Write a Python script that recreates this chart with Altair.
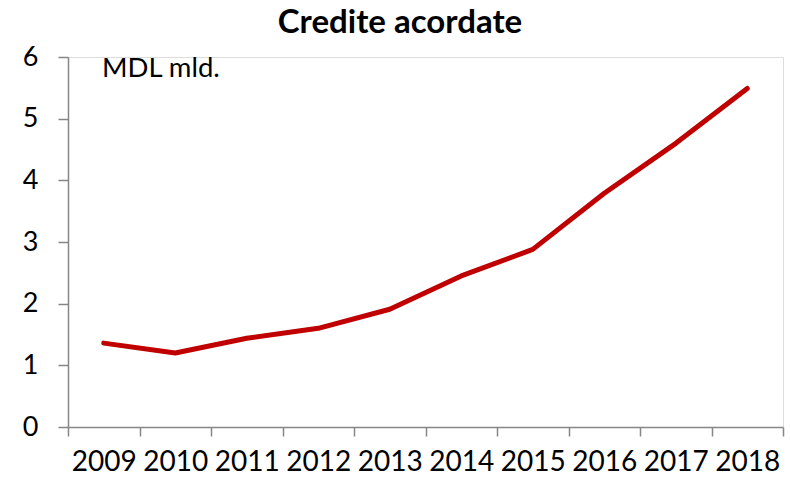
import altair as alt
import pandas as pd

years = ["2009", "2010", "2011", "2012", "2013", "2014", "2015", "2016", "2017", "2018"]
values = [1.36, 1.20, 1.44, 1.60, 1.91, 2.45, 2.88, 3.79, 4.60, 5.49]
title_text = "Credite acordate"
unit_text = "MDL mld."

df = pd.DataFrame({"year": years, "value": values})

FONT = "Lato"
AX = "#868686"

x_enc = alt.X(
    "year:O",
    sort=years,
    bandPosition=0.5,
    scale=alt.Scale(type="band", paddingInner=0, paddingOuter=0),
    axis=alt.Axis(
        title=None, labelAngle=0, tickBand="extent", domainColor=AX, tickColor=AX,
        tickSize=9, labelFontSize=28, labelFont=FONT, labelColor="black",
        labelPadding=12, domainWidth=1.5, tickWidth=1.5,
    ),
)

line = alt.Chart(df).mark_line(color="#C00000", strokeWidth=5, strokeCap="round", strokeJoin="round").encode(
    x=x_enc,
    y=alt.Y(
        "value:Q",
        scale=alt.Scale(domain=[0, 6], nice=False),
        axis=alt.Axis(
            title=None, values=[0, 1, 2, 3, 4, 5, 6], grid=False, domainColor=AX, tickColor=AX,
            tickSize=10, labelFontSize=27, labelFont=FONT, labelColor="black",
            labelPadding=20, domainWidth=1.5, tickWidth=1.5,
        ),
    ),
)

unit = alt.Chart(pd.DataFrame({"t": [unit_text]})).mark_text(
    align="left", baseline="alphabetic", fontSize=27.5, font=FONT, color="black"
).encode(text="t:N", x=alt.value(34), y=alt.value(20))

title = alt.Chart(pd.DataFrame({"t": [title_text]})).mark_text(
    align="center", baseline="alphabetic", fontSize=33, font=FONT, fontWeight="bold", color="black"
).encode(text="t:N", x=alt.value(332), y=alt.value(-24))

chart = alt.layer(line, unit, title).properties(
    width=715, height=370,
    autosize=alt.AutoSizeParams(type="none"),
    padding={"left": 68, "top": 57, "right": 7, "bottom": 52},
).configure_view(stroke=None).configure(background="white")

chart.save("out.html", embed_options={"renderer": "svg", "actions": False})
